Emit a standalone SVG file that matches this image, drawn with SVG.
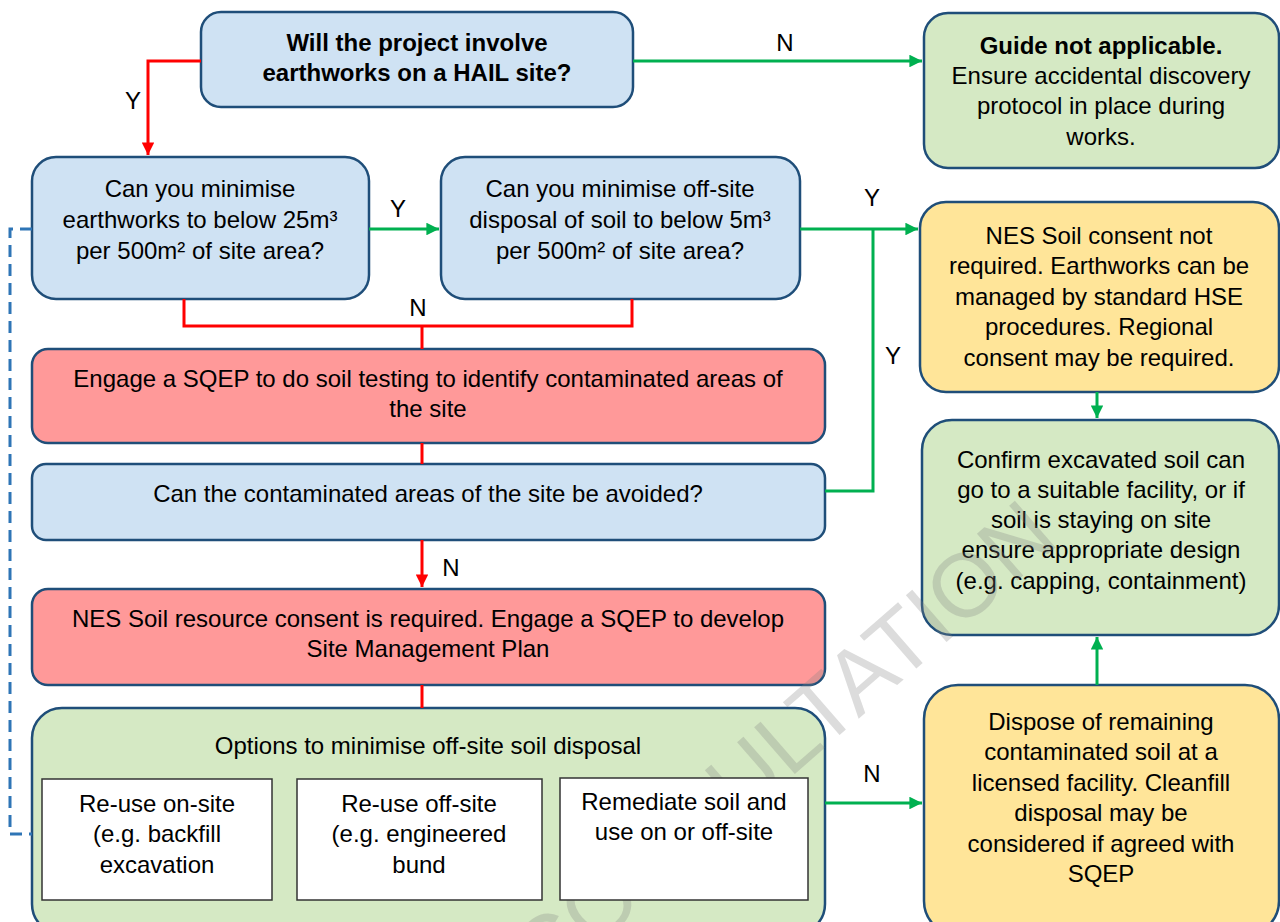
<svg xmlns="http://www.w3.org/2000/svg" width="1280" height="922" viewBox="0 0 1280 922">
<defs>
<style>
.t{font-family:"Liberation Sans",Arial,sans-serif;font-size:24px;fill:#000;text-anchor:middle}
.b{font-weight:bold}
.lbl{font-family:"Liberation Sans",Arial,sans-serif;font-size:24px;fill:#000;text-anchor:middle}
.node{stroke:#1f4e79;stroke-width:2.5}
.blue{fill:#cfe2f3}
.green{fill:#d5e9c4}
.yellow{fill:#ffe599}
.red{fill:#ff9999}
.white{fill:#fff;stroke:#333;stroke-width:1.5}
.cr{fill:none;stroke:#ff0000;stroke-width:3}
.cg{fill:none;stroke:#00b050;stroke-width:3}
.cb{fill:none;stroke:#2e75b6;stroke-width:3;stroke-dasharray:12 7}
.wm{font-family:"Liberation Sans",Arial,sans-serif;font-size:90px;fill:#808080;fill-opacity:0.28}
</style>
<marker id="ar" viewBox="0 0 10 10" refX="10" refY="5" markerWidth="4.2" markerHeight="4.2" markerUnits="strokeWidth" orient="auto"><path d="M0,0 L10,5 L0,10 Z" fill="#ff0000"/></marker>
<marker id="ag" viewBox="0 0 10 10" refX="10" refY="5" markerWidth="4.2" markerHeight="4.2" markerUnits="strokeWidth" orient="auto"><path d="M0,0 L10,5 L0,10 Z" fill="#00b050"/></marker>
</defs>
<rect width="1280" height="922" fill="#fff"/>

<g id="n_hail">
<rect class="node blue" x="201" y="12" width="432" height="95" rx="20"/>
<text class="t b" x="417" y="51">Will the project involve</text>
<text class="t b" x="417" y="81">earthworks on a HAIL site?</text>
</g>

<g id="n_guide">
<rect class="node green" x="924" y="13" width="355" height="155" rx="24"/>
<text class="t b" x="1101" y="54">Guide not applicable.</text>
<text class="t" x="1101" y="84">Ensure accidental discovery</text>
<text class="t" x="1101" y="114">protocol in place during</text>
<text class="t" x="1101" y="145">works.</text>
</g>

<g id="n_min_earth">
<rect class="node blue" x="32" y="157" width="337" height="142" rx="24"/>
<text class="t" x="200" y="197">Can you minimise</text>
<text class="t" x="200" y="228">earthworks to below 25m³</text>
<text class="t" x="200" y="259">per 500m² of site area?</text>
</g>

<g id="n_min_disposal">
<rect class="node blue" x="441" y="157" width="359" height="142" rx="24"/>
<text class="t" x="620" y="197">Can you minimise off-site</text>
<text class="t" x="620" y="228">disposal of soil to below 5m³</text>
<text class="t" x="620" y="259">per 500m² of site area?</text>
</g>

<g id="n_not_required">
<rect class="node yellow" x="920" y="202" width="359" height="190" rx="26"/>
<text class="t" x="1099" y="244">NES Soil consent not</text>
<text class="t" x="1099" y="274">required. Earthworks can be</text>
<text class="t" x="1099" y="305">managed by standard HSE</text>
<text class="t" x="1099" y="335">procedures. Regional</text>
<text class="t" x="1099" y="366">consent may be required.</text>
</g>

<g id="n_engage">
<rect class="node red" x="32" y="349" width="793" height="94" rx="16"/>
<text class="t" x="428" y="387">Engage a SQEP to do soil testing to identify contaminated areas of</text>
<text class="t" x="428" y="417">the site</text>
</g>

<g id="n_avoid">
<rect class="node blue" x="32" y="464" width="793" height="76" rx="14"/>
<text class="t" x="428" y="502">Can the contaminated areas of the site be avoided?</text>
</g>

<g id="n_consent">
<rect class="node red" x="32" y="589" width="793" height="96" rx="16"/>
<text class="t" x="428" y="627">NES Soil resource consent is required. Engage a SQEP to develop</text>
<text class="t" x="428" y="657">Site Management Plan</text>
</g>

<g id="n_options">
<rect class="node green" x="32" y="708" width="793" height="226" rx="30"/>
<text class="t" x="428" y="754">Options to minimise off-site soil disposal</text>
</g>

<g id="n_confirm">
<rect class="node green" x="922" y="420" width="357" height="215" rx="30"/>
<text class="t" x="1101" y="468">Confirm excavated soil can</text>
<text class="t" x="1101" y="498">go to a suitable facility, or if</text>
<text class="t" x="1101" y="528">soil is staying on site</text>
<text class="t" x="1101" y="558">ensure appropriate design</text>
<text class="t" x="1101" y="589">(e.g. capping, containment)</text>
</g>

<g id="n_dispose">
<rect class="node yellow" x="924" y="685" width="355" height="250" rx="34"/>
<text class="t" x="1101" y="730">Dispose of remaining</text>
<text class="t" x="1101" y="760">contaminated soil at a</text>
<text class="t" x="1101" y="791">licensed facility. Cleanfill</text>
<text class="t" x="1101" y="821">disposal may be</text>
<text class="t" x="1101" y="852">considered if agreed with</text>
<text class="t" x="1101" y="882">SQEP</text>
</g>

<g id="connectors">
<path class="cr" d="M201,61 H148 V155" marker-end="url(#ar)"/>
<path class="cg" d="M633,61 H922" marker-end="url(#ag)"/>
<path class="cg" d="M369,229 H439" marker-end="url(#ag)"/>
<path class="cg" d="M800,229 H918" marker-end="url(#ag)"/>
<path class="cg" d="M825,491 H873 V229"/>
<path class="cr" d="M184,299 V326 H632 V299"/>
<path class="cr" d="M422,326 V349"/>
<path class="cr" d="M422,443 V464"/>
<path class="cr" d="M422,540 V587" marker-end="url(#ar)"/>
<path class="cr" d="M422,685 V708"/>
<path class="cg" d="M1097,392 V418" marker-end="url(#ag)"/>
<path class="cg" d="M1097,685 V637" marker-end="url(#ag)"/>
<path class="cg" d="M825,803 H922" marker-end="url(#ag)"/>
<path class="cb" d="M32,229 H10 V834 H32"/>
<text class="lbl" x="133" y="109">Y</text>
<text class="lbl" x="785" y="51">N</text>
<text class="lbl" x="398" y="217">Y</text>
<text class="lbl" x="872" y="206">Y</text>
<text class="lbl" x="893" y="364">Y</text>
<text class="lbl" x="418" y="316">N</text>
<text class="lbl" x="451" y="576">N</text>
<text class="lbl" x="872" y="782">N</text>
</g>

<text class="wm" x="544" y="992" transform="rotate(-41 544 992)">CONSULTATION</text>

<g id="n_opt_reuse_on">
<rect class="white" x="42" y="779" width="230" height="121"/>
<text class="t" x="157" y="812">Re-use on-site</text>
<text class="t" x="157" y="842">(e.g. backfill</text>
<text class="t" x="157" y="873">excavation</text>
</g>
<g id="n_opt_reuse_off">
<rect class="white" x="297" y="779" width="245" height="121"/>
<text class="t" x="419" y="812">Re-use off-site</text>
<text class="t" x="419" y="842">(e.g. engineered</text>
<text class="t" x="419" y="873">bund</text>
</g>
<g id="n_opt_remediate">
<rect class="white" x="560" y="778" width="248" height="122"/>
<text class="t" x="684" y="810">Remediate soil and</text>
<text class="t" x="684" y="840">use on or off-site</text>
</g>
</svg>
